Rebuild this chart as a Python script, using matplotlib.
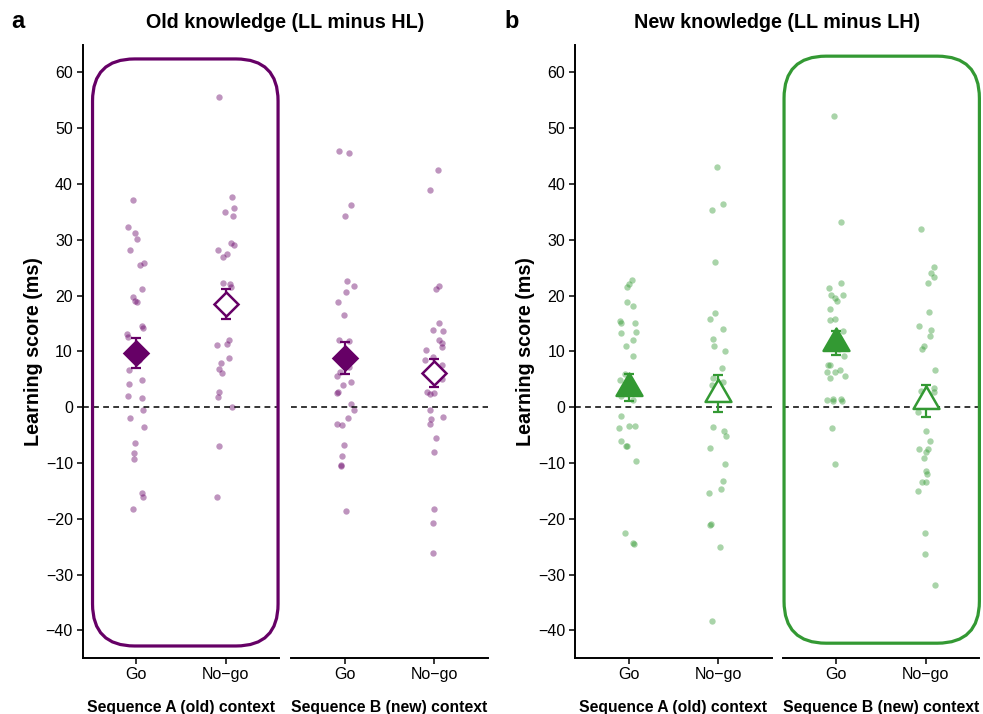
import numpy as np
import matplotlib
matplotlib.use('Agg')
import matplotlib.pyplot as plt
from matplotlib.patches import FancyBboxPatch
from matplotlib.path import Path

plt.rcParams['font.family'] = ['Liberation Sans', 'DejaVu Sans']

# 0. data (learning scores, ms) + horizontal jitter
conditions = ['Go', 'No\u2212go']
contexts = ['Sequence A (old) context', 'Sequence B (new) context']

old_a_go = [37.2, 32.2, 31.2, 30.2, 28.1, 25.4, 25.9, 21.1, 19.7, 19.1, 18.8, 14.6, 14.1, 13.1, 12.6,
            10.5, 8.5, 6.6, 4.8, 4.1, 2.0, 1.6, -0.5, -2.0, -3.5, -6.5, -8.2, -9.3, -15.4, -16.1, -18.3]
old_a_go_jit = [-0.04, -0.09, -0.02, 0.01, -0.07, 0.04, 0.09, 0.06, -0.04, -0.02, 0.01, 0.06, 0.07, -0.11, -0.09,
                0.0, 0.03, -0.08, 0.06, -0.08, -0.09, 0.06, 0.07, -0.07, 0.09, -0.02, -0.03, -0.03, 0.06, 0.07, -0.04]
old_a_nogo = [55.5, 37.7, 35.7, 34.9, 34.2, 29.5, 29.1, 28.1, 27.4, 26.9, 22.3, 22.1, 21.6, 19.0, 12.1, 11.3,
              11.1, 8.8, 8.0, 6.8, 6.2, 2.8, 1.8, 0.1, -7.0, -16.1]
old_a_nogo_jit = [-0.07, 0.07, 0.09, -0.01, 0.08, 0.06, 0.09, -0.09, 0.01, -0.03, -0.03, 0.05, 0.06, 0.0, 0.04, 0.01,
                  -0.10, 0.04, -0.05, -0.07, -0.04, -0.08, -0.09, 0.07, -0.07, -0.10]
old_b_go = [45.9, 45.5, 36.2, 34.2, 22.6, 21.8, 20.6, 18.8, 16.5, 12.1, 11.8, 9.5, 7.2, 6.3, 5.5, 4.5, 4.0,
            2.7, 2.6, 0.5, -0.5, -2.0, -3.0, -3.2, -6.8, -8.8, -10.3, -10.5, -18.6]
old_b_go_jit = [-0.06, 0.05, 0.07, 0.0, 0.03, 0.10, 0.02, -0.07, -0.01, -0.06, 0.05, 0.0, 0.05, -0.05, -0.09, 0.07,
                -0.02, -0.07, -0.09, 0.07, 0.10, 0.04, -0.09, -0.03, -0.01, -0.03, -0.04, -0.04, 0.02]
old_b_nogo = [42.5, 38.9, 21.8, 21.1, 15.1, 13.8, 13.6, 12.1, 11.5, 10.8, 10.3, 9.0, 8.5, 7.5, 5.1, 2.8, 2.3,
              2.6, -0.5, -1.7, -2.2, -3.0, -5.5, -8.0, -18.3, -20.8, -26.1]
old_b_nogo_jit = [0.04, -0.05, 0.06, 0.02, 0.06, -0.01, 0.10, 0.05, 0.09, 0.09, -0.09, -0.01, -0.10, 0.09, 0.09,
                  -0.08, -0.04, 0.0, -0.05, 0.10, -0.03, -0.04, 0.02, 0.0, 0.0, -0.01, -0.01]

new_a_go = [22.8, 22.1, 21.5, 18.8, 18.1, 15.5, 15.0, 15.0, 13.2, 13.5, 12.0, 11.0, 9.2, 6.0, 4.8, 3.8, 2.0,
            1.3, -1.5, -3.3, -3.3, -3.8, -6.0, -7.0, -7.0, -9.6, -22.5, -24.4, -24.5]
new_a_go_jit = [0.04, 0.0, -0.02, -0.02, 0.05, -0.10, -0.08, 0.07, -0.08, 0.08, 0.05, -0.03, 0.05, -0.04, -0.10,
                0.01, -0.09, 0.05, -0.08, 0.0, 0.07, -0.11, -0.08, -0.03, -0.02, 0.08, -0.04, 0.05, 0.06]
new_a_nogo = [43.0, 36.4, 35.4, 26.0, 16.8, 15.8, 14.0, 12.3, 11.0, 10.0, 7.0, 5.2, 4.5, 4.0, 1.5, -3.6, -4.3,
              -5.1, -7.3, -10.1, -13.3, -14.7, -15.4, -21.2, -21.0, -25.0, -38.3]
new_a_nogo_jit = [-0.01, 0.05, -0.07, -0.03, -0.03, -0.09, 0.06, -0.06, -0.04, 0.08, 0.04, -0.06, 0.05, -0.07, 0.0,
                  -0.06, 0.07, 0.09, -0.09, 0.08, 0.06, 0.03, -0.10, -0.09, -0.08, 0.02, -0.07]
new_b_go = [52.2, 33.2, 22.3, 21.4, 20.1, 20.1, 19.6, 19.1, 17.6, 15.6, 15.8, 13.6, 12.5, 10.5, 9.1, 7.6, 7.6,
            6.3, 6.3, 6.6, 5.6, 5.3, 1.3, 1.5, 1.1, 1.5, 1.1, -3.7, -10.2]
new_b_go_jit = [-0.03, 0.05, 0.05, -0.08, -0.06, 0.07, -0.01, 0.01, -0.07, -0.07, -0.01, 0.07, 0.0, 0.03, 0.09,
                -0.09, -0.07, -0.10, -0.01, 0.04, 0.10, -0.07, -0.10, -0.04, -0.04, 0.05, 0.06, -0.05, -0.02]
new_b_nogo = [32.0, 25.1, 24.1, 23.3, 22.3, 17.1, 14.6, 13.8, 12.8, 10.9, 10.4, 6.6, 3.5, 2.8, 2.9, -0.9, -4.2,
              -6.0, -7.5, -8.0, -7.5, -9.2, -11.4, -12.0, -13.4, -13.4, -15.1, -22.6, -26.3, -31.8]
new_b_nogo_jit = [-0.05, 0.09, 0.06, 0.09, 0.03, 0.04, -0.07, 0.06, 0.05, -0.02, -0.04, 0.10, 0.09, 0.09, -0.05,
                  -0.09, 0.0, 0.05, 0.03, 0.0, -0.08, -0.02, 0.0, 0.01, -0.04, 0.0, -0.09, -0.01, -0.01, 0.10]

# group means and standard errors [context][condition]
old_mean = [[9.7, 18.5], [8.8, 6.1]]
old_se = [[2.7, 2.65], [2.85, 2.55]]
new_mean = [[3.5, 2.4], [11.5, 1.1]]
new_se = [[2.4, 3.3], [2.2, 2.85]]

# 1. layout (pixels of a 983x714 canvas)
W, H = 983, 714
purple = '#660066'
green = '#339933'
ylim = (-44.9, 64.9)
xlim = (0.4, 2.6)

fig = plt.figure(figsize=(W / 100, H / 100), dpi=100)

tri = Path([(0, 1), (-0.866, -0.5), (0.866, -0.5), (0, 1)],
           [Path.MOVETO, Path.LINETO, Path.LINETO, Path.CLOSEPOLY])


def facet(x0, first, pts, jits, means, ses, col, marker, msize, strip):
    ax = fig.add_axes([x0 / W, (H - 657.7) / H, 196.7 / W, (657.7 - 45) / H])
    ax.set_xlim(xlim)
    ax.set_ylim(ylim)
    for s in ['top', 'right']:
        ax.spines[s].set_visible(False)
    ax.spines['bottom'].set_linewidth(1.4)
    ax.spines['left'].set_linewidth(1.4)
    if not first:
        ax.spines['left'].set_visible(False)
        ax.tick_params(axis='y', left=False, labelleft=False)
    else:
        ax.set_yticks(np.arange(-40, 61, 10))
    ax.tick_params(axis='both', width=1.1, length=4, labelsize=11.5, colors='black', pad=3)
    ax.set_xticks([1, 2])
    ax.set_xticklabels(conditions)
    ax.set_xlabel(strip, fontsize=11.3, fontweight='bold', labelpad=13)

    for i in range(2):
        ax.scatter(i + 1 + np.array(jits[i]), pts[i], s=21, color=col, alpha=0.42,
                   linewidths=0, zorder=2)
    ax.axhline(0, color='black', lw=1.1, dashes=(3.8, 2.8), zorder=3)
    for i in range(2):
        ax.errorbar(i + 1, means[i], yerr=ses[i], fmt='none', ecolor=col, elinewidth=1.6,
                    capsize=3.5, capthick=1.6, zorder=4)
        face = col if i == 0 else 'white'
        ax.plot(i + 1, means[i], marker=marker, ms=msize, mfc=face, mec=col, mew=1.8,
                ls='none', zorder=5)
    return ax


def rounded_box(ax, x0, x1, y0, y1, col):
    px_x = 196.7 / (xlim[1] - xlim[0])
    px_y = (657.7 - 45) / (ylim[1] - ylim[0])
    r = 42 / px_x
    box = FancyBboxPatch((x0, y0), x1 - x0, y1 - y0,
                         boxstyle='round,pad=0,rounding_size=%f' % r,
                         mutation_aspect=px_x / px_y, fill=False, ec=col, lw=2.3,
                         clip_on=False, zorder=6)
    ax.add_patch(box)


# 2. panel a : old knowledge
a1 = facet(82.7, True, [old_a_go, old_a_nogo], [old_a_go_jit, old_a_nogo_jit],
           old_mean[0], old_se[0], purple, 'D', 12.3, contexts[0])
a2 = facet(291, False, [old_b_go, old_b_nogo], [old_b_go_jit, old_b_nogo_jit],
           old_mean[1], old_se[1], purple, 'D', 12.3, contexts[1])
a1.set_ylabel('Learning score (ms)', fontsize=14.2, fontweight='bold', labelpad=2)
rounded_box(a1, 0.51, 2.585, -42.8, 62.4, purple)

# 3. panel b : new knowledge
b1 = facet(575, True, [new_a_go, new_a_nogo], [new_a_go_jit, new_a_nogo_jit],
           new_mean[0], new_se[0], green, tri, 21.5, contexts[0])
b2 = facet(782.7, False, [new_b_go, new_b_nogo], [new_b_go_jit, new_b_nogo_jit],
           new_mean[1], new_se[1], green, tri, 21.5, contexts[1])
b1.set_ylabel('Learning score (ms)', fontsize=14.2, fontweight='bold', labelpad=2)
rounded_box(b2, 0.415, 2.6, -42.3, 62.9, green)

# 4. titles and panel letters
fig.text(285.3 / W, 1 - 23 / H, 'Old knowledge (LL minus HL)', ha='center', va='center',
         fontsize=14.2, fontweight='bold')
fig.text(777 / W, 1 - 23 / H, 'New knowledge (LL minus LH)', ha='center', va='center',
         fontsize=14.2, fontweight='bold')
fig.text(11 / W, 1 - 22 / H, 'a', ha='left', va='center', fontsize=17, fontweight='bold')
fig.text(504 / W, 1 - 22 / H, 'b', ha='left', va='center', fontsize=17, fontweight='bold')

fig.savefig('out.png', dpi=100)
